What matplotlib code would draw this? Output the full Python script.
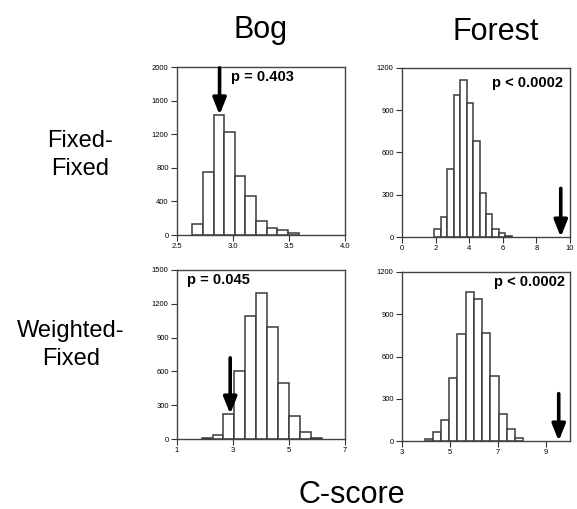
import numpy as np
import matplotlib
matplotlib.use("Agg")
import matplotlib.pyplot as plt

plt.rcParams['font.family'] = ['Liberation Sans', 'DejaVu Sans']

# bin edges and counts of the null distributions (C-score)
bog_ff_edges = [2.636, 2.731, 2.826, 2.921, 3.016, 3.111, 3.206, 3.301, 3.396, 3.491, 3.586]
bog_ff_counts = [130, 745, 1430, 1225, 705, 460, 165, 83, 55, 24]
bog_ff_obs = 2.88
bog_ff_p = "p = 0.403"

forest_ff_edges = [1.92, 2.305, 2.69, 3.075, 3.46, 3.845, 4.23, 4.615, 5.0, 5.385, 5.77, 6.155, 6.54]
forest_ff_counts = [55, 145, 480, 1010, 1115, 950, 680, 315, 160, 55, 30, 8]
forest_ff_obs = 9.45
forest_ff_p = "p < 0.0002"

bog_wf_edges = [1.88, 2.27, 2.66, 3.05, 3.44, 3.83, 4.22, 4.61, 5.0, 5.39, 5.78, 6.17]
bog_wf_counts = [5, 35, 220, 605, 1090, 1300, 995, 500, 205, 65, 5]
bog_wf_obs = 2.9
bog_wf_p = "p = 0.045"

forest_wf_edges = [3.94, 4.283, 4.626, 4.969, 5.312, 5.655, 5.998, 6.341, 6.684, 7.027, 7.37, 7.713, 8.056]
forest_wf_counts = [14, 64, 151, 447, 762, 1058, 1008, 767, 459, 194, 83, 24]
forest_wf_obs = 9.53
forest_wf_p = "p < 0.0002"

W, H = 577, 509
fig = plt.figure(figsize=(W / 100, H / 100), dpi=100)


def panel(box, edges, counts, obs, ptxt, xlim, xticks, xfmt, ylim, yticks,
          arrow_y, ppos, pha):
    l, t, r, b = box
    ax = fig.add_axes([l / W, 1 - b / H, (r - l) / W, (b - t) / H])
    edges = np.array(edges)
    ax.bar(edges[:-1], counts, width=np.diff(edges), align='edge',
           facecolor='white', edgecolor='#3a3a3a', linewidth=1.1)
    ax.set_xlim(*xlim)
    ax.set_ylim(*ylim)
    ax.set_xticks(xticks)
    ax.set_xticklabels([xfmt % v for v in xticks])
    ax.set_yticks(yticks)
    ax.tick_params(direction='out', length=4, width=0.8, labelsize=5.5,
                   pad=2, colors='#333333', labelcolor='black')
    for s in ax.spines.values():
        s.set_color('#444444')
        s.set_linewidth(1.0)
    ax.annotate('', xy=(obs, arrow_y[1]), xytext=(obs, arrow_y[0]),
                arrowprops=dict(arrowstyle='-|>,head_length=1.0,head_width=0.4',
                                lw=2.6, color='black', shrinkA=0, shrinkB=0))
    ax.text(ppos[0], ppos[1], ptxt, transform=ax.transAxes, ha=pha, va='top',
            fontsize=10.5, fontweight='bold')
    return ax


panel((177, 67, 345, 235), bog_ff_edges, bog_ff_counts, bog_ff_obs, bog_ff_p,
      (2.5, 4.0), [2.5, 3.0, 3.5, 4.0], '%.1f', (0, 2000), range(0, 2001, 400),
      (1990, 1430), (0.32, 0.985), 'left')
panel((402, 68, 570, 237), forest_ff_edges, forest_ff_counts, forest_ff_obs, forest_ff_p,
      (0, 10), [0, 2, 4, 6, 8, 10], '%d', (0, 1200), range(0, 1201, 300),
      (345, 0), (0.96, 0.95), 'right')
panel((177, 270, 345, 439), bog_wf_edges, bog_wf_counts, bog_wf_obs, bog_wf_p,
      (1, 7), [1, 3, 5, 7], '%d', (0, 1500), range(0, 1501, 300),
      (720, 222), (0.06, 0.98), 'left')
panel((402, 272, 570, 441), forest_wf_edges, forest_wf_counts, forest_wf_obs, forest_wf_p,
      (3, 10), [3, 5, 7, 9], '%d', (0, 1200), range(0, 1201, 300),
      (336, 0), (0.97, 0.98), 'right')

fig.text(261 / W, 1 - 38 / H, 'Bog', ha='center', va='baseline', fontsize=22)
fig.text(496 / W, 1 - 40 / H, 'Forest', ha='center', va='baseline', fontsize=22)
fig.text(80 / W, 1 - 155 / H, 'Fixed-\nFixed', ha='center', va='center',
         fontsize=17, linespacing=1.35)
fig.text(71 / W, 1 - 345 / H, 'Weighted-\nFixed', ha='center', va='center',
         fontsize=17, linespacing=1.35)
fig.text(352 / W, 1 - 503 / H, 'C-score', ha='center', va='baseline', fontsize=22)

fig.savefig('out.png', dpi=100, facecolor='white')
